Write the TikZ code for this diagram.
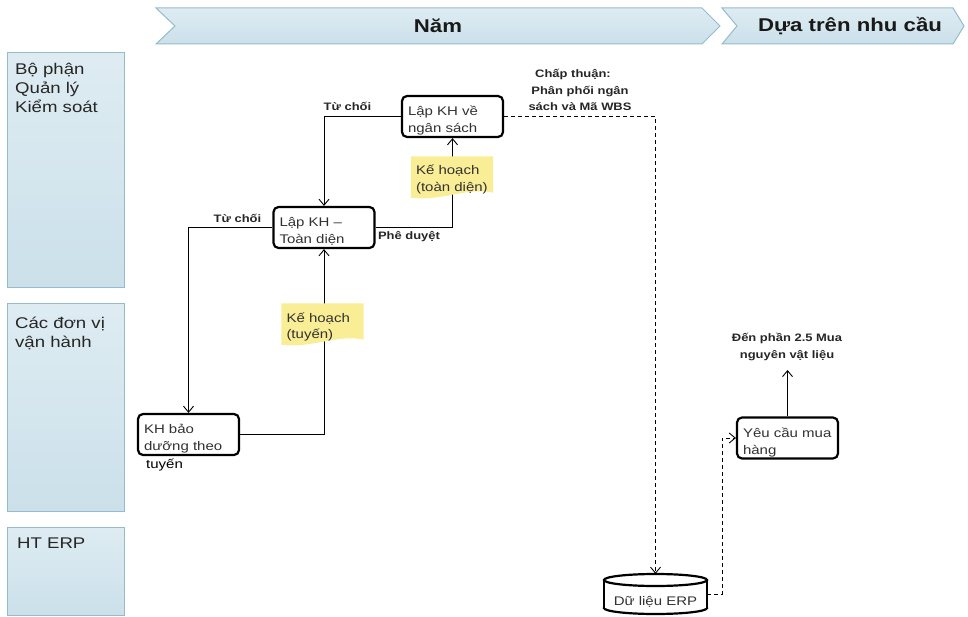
\documentclass[tikz,border=0pt]{standalone}
\usepackage{fontspec}
\setmainfont{Liberation Sans}[FakeStretch=1.2]
\usetikzlibrary{arrows.meta,calc}
\pgfdeclarelayer{back}
\pgfdeclarelayer{mid}
\pgfsetlayers{back,mid,main}

\definecolor{laneblue}{RGB}{203,224,234}
\definecolor{lanetop}{RGB}{222,236,242}
\definecolor{laneedge}{RGB}{150,188,204}
\definecolor{notefill}{RGB}{249,237,150}
\definecolor{boxtext}{RGB}{50,50,50}

\newcommand\setfs[2]{\fontsize{#1}{#2}\selectfont}

\begin{document}
\begin{tikzpicture}[x=1pt,y=-1pt,
  >={Straight Barb[length=6pt,width=10pt]},
  band/.style={draw=laneedge, line width=1pt, top color=lanetop, bottom color=laneblue},
  headtext/.style={font=\bfseries\setfs{18.5}{22}, text=black!90, inner sep=0},
  lanelabel/.style={anchor=base west, inner sep=0, align=left, font=\setfs{15.5}{19}, text=black!85},
  procbox/.style={draw=black, line width=2.2pt, rounded corners=5pt, fill=white,
    text=boxtext, font=\setfs{12.5}{17}, align=left, text width=89pt,
    inner xsep=6pt, inner ysep=3pt, minimum height=41pt,
    text height=10pt, text depth=12pt},
  notebox/.style={text=boxtext, font=\setfs{12.5}{17}, align=left, text width=72pt,
    inner xsep=5pt, inner ysep=2pt, minimum height=41pt,
    text height=10pt, text depth=14pt},
  flowlabel/.style={font=\bfseries\setfs{10.8}{16.5}, align=center, inner sep=0, text=black!85},
  flow/.style={line width=0.9pt, ->},
  dataflow/.style={flow, dash pattern=on 4pt off 3pt}
]
\useasboundingbox (0,0) rectangle (968,617);

% phase chevrons along the top
\path[band] (156,8) -- (702,8) -- (720,26) -- (702,44) -- (156,44) -- (175,26) -- cycle;
\path[band] (722,8) -- (953,8) -- (964,26) -- (953,44) -- (722,44) -- (737,26) -- cycle;
\node[headtext] (hyear) at (438,26) {Năm};
\node[headtext] (hdemand) at (850,26) {Dựa trên nhu cầu};

% swimlane headers (base anchor sits on the last line)
\path[band] (7,53) rectangle (124,288);
\path[band] (7,303) rectangle (124,511);
\path[band] (7,527) rectangle (124,615);
\node[lanelabel] (lctrl) at (15,113) {Bộ phận\\Quản lý\\Kiểm soát};
\node[lanelabel] (lops) at (15,347) {Các đơn vị\\vận hành};
\node[lanelabel] (lerp) at (17,548) {HT ERP};

% process steps
\node[procbox] (bud) at (452.5,116.5) {Lập KH về\\ngân sách};
\node[procbox] (td) at (324,227.5) {Lập KH –\\Toàn diện};
\node[procbox] (kh) at (188.5,434.5) {KH bảo\\dưỡng theo};
\node[font=\setfs{12.5}{17}, anchor=base west, inner sep=0] (khtail) at (146,468) {tuyến};
\node[procbox] (req) at (787.5,438) {Yêu cầu mua\\hàng};

% ERP data store
\filldraw[fill=white, line width=2.2pt] (655.5,608) ellipse[x radius=51.5, y radius=6];
\fill[white] (604,580) rectangle (707,608);
\draw[line width=2.2pt] (604,580) -- (604,608) (707,580) -- (707,608);
\filldraw[fill=white, line width=2.2pt] (655.5,580) ellipse[x radius=51.5, y radius=6];
\node[inner sep=0, minimum width=103pt, minimum height=40pt, text height=22pt, text depth=0pt,
  text=boxtext, font=\setfs{12.5}{17}] (erp) at (655.5,594) {Dữ liệu ERP};

% documents passed between steps
\node[notebox] (docfull) at (452,177) {Kế hoạch\\(toàn diện)};
\node[notebox] (docline) at (322.5,324) {Kế hoạch\\(tuyến)};
\begin{pgfonlayer}{mid}
\foreach \d in {docfull,docline}{
  \fill[notefill] (\d.north west) -- (\d.north east) -- ([yshift=5pt]\d.south east)
    .. controls ([xshift=-25pt,yshift=11pt]\d.south east) and ([xshift=30pt,yshift=-4pt]\d.south west)
    .. (\d.south west) -- cycle;
}
\end{pgfonlayer}

% connector labels
\node[flowlabel] (rej1) at (347.5,106) {Từ chối};
\node[flowlabel] (rej2) at (237.5,218) {Từ chối};
\node[flowlabel] (appr) at (409,237) {Phê duyệt};
\node[flowlabel] (grant) at (580,90) {Chấp thuận:\hspace*{1.3em}\\Phân phối ngân\\sách và Mã WBS};
\node[flowlabel] (nextsec) at (787,347) {Đến phần 2.5 Mua\\nguyên vật liệu};
\coordinate (goto) at (787.5,370);

% connectors
\begin{pgfonlayer}{back}
\draw[flow] (bud.west) -| (td.north);
\draw[flow] (td.west) -| (kh.north);
\draw[flow] (kh.east) -| (td.south);
\draw[flow] (td.east) -| (bud.south);
\draw[dataflow] (bud.east) -| (erp.north);
\draw[dataflow] (erp.east) -- ++(15,0) |- (req.west);
\draw[flow] (req.north) -- (goto);
\end{pgfonlayer}
\end{tikzpicture}
\end{document}
